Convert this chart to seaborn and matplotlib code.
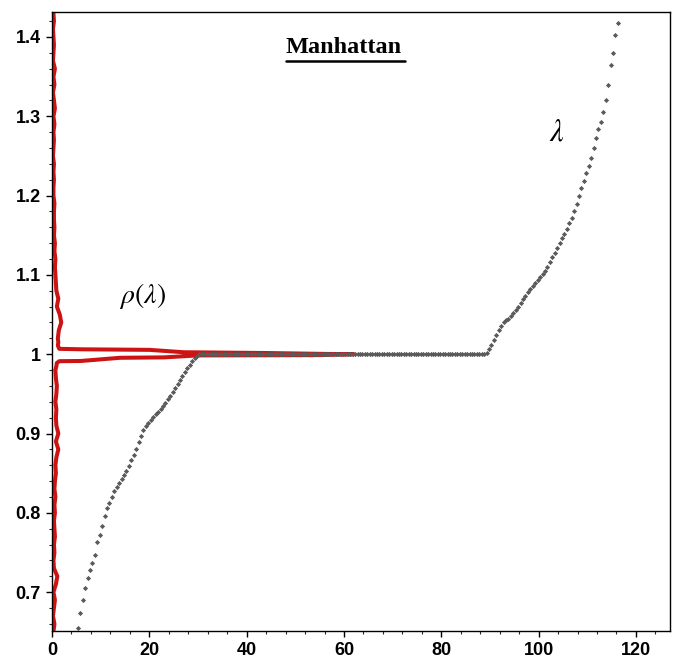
import numpy as np
import pandas as pd
import matplotlib
matplotlib.use("Agg")
import matplotlib.pyplot as plt
from matplotlib.ticker import MultipleLocator, FuncFormatter
from matplotlib.lines import Line2D
import seaborn as sns

# ---- sorted eigenvalues lambda against their position -------------------
idx_start = 5.3
idx_step = 0.5
lam_lower = [0.655, 0.674, 0.690, 0.705, 0.718, 0.728, 0.737, 0.747, 0.763, 0.772,
             0.783, 0.796, 0.806, 0.813, 0.820, 0.827, 0.833, 0.838, 0.843, 0.848,
             0.853, 0.859, 0.866, 0.873, 0.881, 0.889, 0.897, 0.904, 0.909, 0.913,
             0.917, 0.921, 0.924, 0.927, 0.931, 0.935, 0.939, 0.943, 0.947, 0.952,
             0.957, 0.962, 0.967, 0.972, 0.977, 0.982, 0.987, 0.991, 0.995, 0.998]
lam_plateau = [1.0] * 118
lam_upper = [1.002, 1.006, 1.012, 1.018, 1.024, 1.030, 1.036, 1.040, 1.043, 1.045,
             1.048, 1.052, 1.056, 1.060, 1.064, 1.069, 1.074, 1.078, 1.082, 1.086,
             1.090, 1.094, 1.097, 1.101, 1.105, 1.110, 1.116, 1.122, 1.128, 1.134,
             1.140, 1.146, 1.152, 1.158, 1.165, 1.172, 1.181, 1.190, 1.200, 1.210,
             1.219, 1.228, 1.237, 1.248, 1.260, 1.273, 1.284, 1.293, 1.305, 1.321,
             1.340, 1.365, 1.380, 1.403, 1.418]

# ---- spectral density rho(lambda), laid along the lambda axis ------------
rho_lam_lower = [0.65, 0.66, 0.67, 0.68, 0.69, 0.70, 0.71, 0.72, 0.73, 0.74,
                 0.75, 0.76, 0.77, 0.78, 0.79, 0.80, 0.81, 0.82, 0.83, 0.84,
                 0.85, 0.86, 0.87, 0.88, 0.89, 0.90, 0.91, 0.92, 0.93, 0.94,
                 0.95, 0.96, 0.97, 0.98]
rho_lower = [0.3, 0.5, 0.2, 0.4, 0.6, 0.3, 0.8, 1.1, 0.4, 0.3,
             0.5, 0.4, 0.6, 0.5, 0.4, 0.6, 0.5, 0.7, 0.5, 0.6,
             0.8, 0.7, 0.9, 1.3, 0.8, 1.3, 0.9, 0.8, 0.9, 0.7,
             0.9, 1.0, 0.8, 0.7]
spike_lam = [0.985, 0.989, 0.9912, 0.9915, 0.9955, 0.9960, 0.9985, 0.9988, 1.0000,
             1.0003, 1.0015, 1.0025, 1.0055, 1.0062, 1.0068, 1.011, 1.015]
spike_rho = [0.9, 1.0, 1.5, 6.0, 14.0, 23.0, 30.0, 54.0, 62.0,
             57.0, 44.0, 27.0, 20.0, 6.0, 1.5, 1.2, 1.3]
rho_lam_upper = [1.02, 1.03, 1.04, 1.05, 1.06, 1.07, 1.08, 1.09, 1.10, 1.11,
                 1.12, 1.13, 1.14, 1.15, 1.16, 1.17, 1.18, 1.19, 1.20, 1.21,
                 1.22, 1.23, 1.24, 1.25, 1.26, 1.27, 1.28, 1.29, 1.30, 1.31,
                 1.32, 1.33, 1.34, 1.35, 1.36, 1.37, 1.38, 1.39, 1.40, 1.41,
                 1.42, 1.43]
rho_upper = [1.2, 1.4, 1.9, 1.6, 1.0, 1.3, 0.9, 0.8, 0.7, 0.6,
             0.7, 0.5, 0.6, 0.4, 0.5, 0.4, 0.4, 0.5, 0.3, 0.3,
             0.4, 0.3, 0.4, 0.2, 0.3, 0.4, 0.3, 0.5, 0.3, 0.6,
             0.4, 0.2, 0.5, 0.3, 0.6, 0.2, 0.3, 0.4, 0.3, 0.2,
             0.4, 0.3]

x_ticks = [0, 20, 40, 60, 80, 100, 120]
y_ticks = [0.7, 0.8, 0.9, 1.0, 1.1, 1.2, 1.3, 1.4]

# assemble tables
lam_all = lam_lower + lam_plateau + lam_upper
eig = pd.DataFrame({
    "position": idx_start + idx_step * np.arange(len(lam_all)),
    "lambda": lam_all,
})
dens = pd.DataFrame({
    "rho": rho_lower + spike_rho + rho_upper,
    "lambda": rho_lam_lower + spike_lam + rho_lam_upper,
})

sns.set_style("ticks")
plt.rcParams["font.family"] = ["Liberation Sans", "DejaVu Sans"]
plt.rcParams["mathtext.fontset"] = "stix"
plt.rcParams["text.color"] = "black"

fig = plt.figure(figsize=(6.73, 6.58), dpi=100)
ax = fig.add_axes([52 / 673, 27 / 658, 618 / 673, 619 / 658])

sns.lineplot(data=dens, x="rho", y="lambda", sort=False, estimator=None,
             color="#cc1414", linewidth=2.9, ax=ax, zorder=2)
sns.scatterplot(data=eig, x="position", y="lambda", marker="D", s=7,
                color="#5a5a5a", linewidth=0, ax=ax, zorder=3)

ax.set_xlim(0, 127)
ax.set_ylim(0.651, 1.4315)
ax.set_xticks(x_ticks)
ax.set_yticks(y_ticks)
ax.xaxis.set_minor_locator(MultipleLocator(4))
ax.yaxis.set_minor_locator(MultipleLocator(0.02))
ax.yaxis.set_major_formatter(FuncFormatter(lambda v, p: f"{v:g}"))
ax.set_xlabel("")
ax.set_ylabel("")

for s in ax.spines.values():
    s.set_visible(True)
    s.set_linewidth(1.0)
    s.set_color("black")

ax.tick_params(which="major", direction="out", length=4, width=1, pad=4,
               labelsize=13, colors="black")
ax.tick_params(which="minor", direction="out", length=2.5, width=0.8)
for lab in ax.get_xticklabels() + ax.get_yticklabels():
    lab.set_fontweight("bold")

ax.text(0.472, 0.943, "Manhattan", transform=ax.transAxes, ha="center",
        va="center", fontsize=17.5, fontweight="bold", color="black",
        family=["Liberation Serif", "DejaVu Serif"])
ax.add_line(Line2D([0.378, 0.571], [0.921, 0.921], transform=ax.transAxes,
                   color="black", linewidth=1.8))

ax.text(0.146, 0.541, r"$\rho(\lambda)$", transform=ax.transAxes, ha="center",
        va="center", fontsize=20, color="black")
ax.text(0.817, 0.805, r"$\lambda$", transform=ax.transAxes, ha="center",
        va="center", fontsize=22, color="black")

fig.savefig("out.png", dpi=100)
